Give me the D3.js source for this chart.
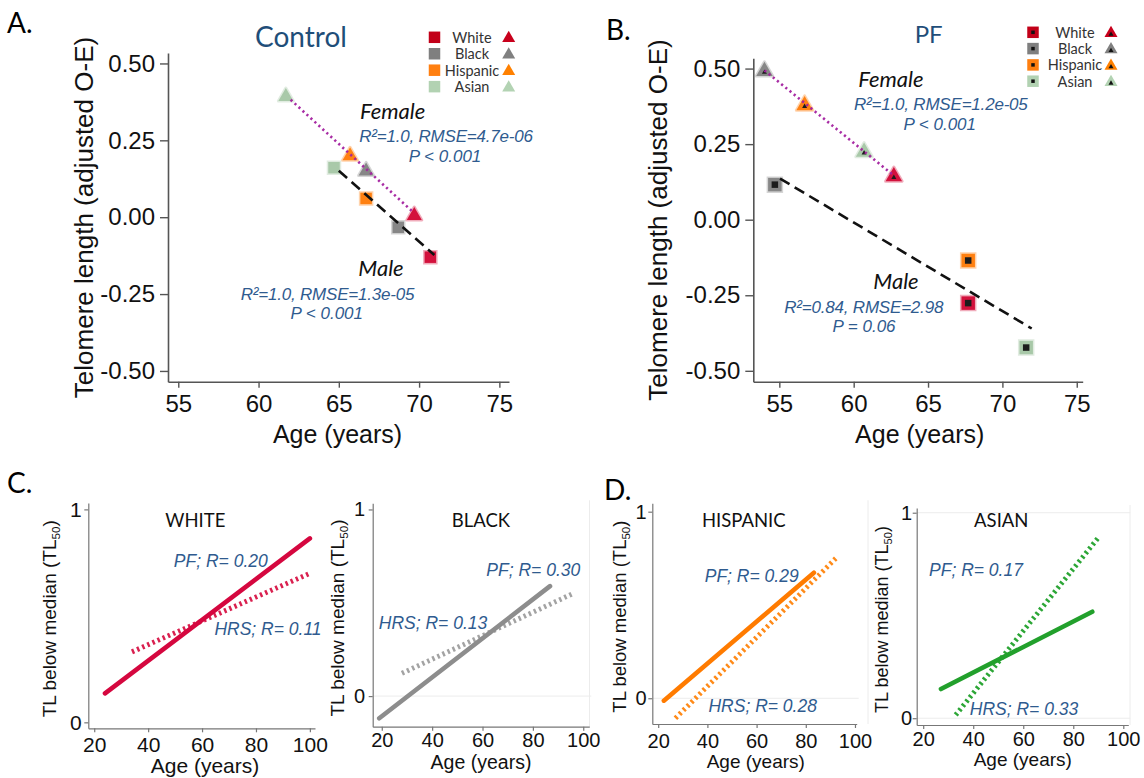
<!DOCTYPE html>
<html><head><meta charset="utf-8">
<script src="https://cdn.jsdelivr.net/npm/d3@7"></script>
<style>body{margin:0;background:#fff}svg{display:block}</style>
</head><body>
<svg id="fig" width="1144" height="778"></svg>
<script>
// ---------------- DATA ----------------
const races = ["White", "Black", "Hispanic", "Asian"];
// Panel A (Control)
const ctrlMaleAge = [70.7, 68.7, 66.7, 64.7];
const ctrlMaleTL = [-0.130, -0.033, 0.061, 0.161];
const ctrlFemaleAge = [69.7, 66.7, 65.7, 61.7];
const ctrlFemaleTL = [0.005, 0.150, 0.199, 0.392];
const ctrlMaleFitAge = [65.0, 70.95];
const ctrlMaleFitTL = [0.151, -0.123];
const ctrlFemaleFitAge = [62.0, 69.6];
const ctrlFemaleFitTL = [0.382, 0.018];
// Panel B (PF)
const pfMaleAge = [67.7, 54.7, 67.7, 71.6];
const pfMaleTL = [-0.276, 0.116, -0.135, -0.423];
const pfFemaleAge = [62.7, 54.0, 56.7, 60.7];
const pfFemaleTL = [0.143, 0.491, 0.378, 0.224];
const pfMaleFitAge = [55.05, 71.97];
const pfMaleFitTL = [0.136, -0.360];
const pfFemaleFitAge = [54.0, 62.7];
const pfFemaleFitTL = [0.494, 0.146];
// axis ticks A/B
const ageTicksAB = [55, 60, 65, 70, 75];
const tlTicksAB = [-0.5, -0.25, 0, 0.25, 0.5];
const tlTickLabelsAB = ["-0.50", "-0.25", "0.00", "0.25", "0.50"];
// Panels C/D trend lines
const trendRaces = ["WHITE", "BLACK", "HISPANIC", "ASIAN"];
const pfStartAge = [24, 19, 22.3, 27.1];
const pfEndAge = [100, 86.8, 83.3, 87.6];
const pfStartTL = [0.136, -0.119, -0.013, 0.142];
const pfEndTL = [0.864, 0.589, 0.673, 0.518];
const hrsStartAge = [34, 28, 27, 33];
const hrsEndAge = [100, 96, 92.2, 90.3];
const hrsStartTL = [0.331, 0.122, -0.107, 0.016];
const hrsEndTL = [0.70, 0.55, 0.75, 0.883];
const pfR = ["0.20", "0.30", "0.29", "0.17"];
const hrsR = ["0.11", "0.13", "0.28", "0.33"];
const ageTicksCD = [20, 40, 60, 80, 100];
const tlTicksCD = [0, 1];
const tlTickLabelsCD = ["0", "1"];

// ---------------- STYLES ----------------
const sans = "'Liberation Sans', Arial, Helvetica, sans-serif";
const humanist = "Lato, 'Open Sans', sans-serif";
const blue = "#2f5b8f";
const markerColors = ["#d3123d", "#878787", "#ff8112", "#a9c9a9"];
const legendSqColors = ["#c20018", "#7f7f7f", "#ff7f10", "#b2d2b2"];
const legendTriColors = ["#c8001c", "#808080", "#ff8000", "#b3d3b3"];
const pfLineColors = ["#d5073f", "#8d8d8d", "#ff7b00", "#22a02c"];
const hrsLineColors = ["#d9204f", "#a3a3a3", "#ff8a18", "#2ca636"];

const svg = d3.select("#fig");

function addText(x, y, str, o) {
  const t = svg.append("text").attr("x", x).attr("y", y).text(str)
    .attr("font-family", o.family || sans)
    .attr("font-size", o.size).attr("fill", o.fill || "#111")
    .attr("text-anchor", o.anchor || "start");
  if (o.italic) t.attr("font-style", "italic");
  if (o.rotate) t.attr("transform", `rotate(-90 ${x} ${y})`);
  if (o.ls != null) t.attr("letter-spacing", o.ls);
  return t;
}
const sq = s => d3.symbol().type(d3.symbolSquare).size(s * s)();
const tri = w => d3.symbol().type(d3.symbolTriangle).size(Math.sqrt(3) / 4 * w * w)();

// ---------------- PANELS A & B ----------------
function scatterPanel(p) {
  const x = d3.scaleLinear().domain(p.xDom).range(p.xRange);
  const y = d3.scaleLinear().domain(p.yDom).range(p.yRange);
  const g = svg.append("g");
  const xa = g.append("g").attr("transform", `translate(0,${p.yRange[0]})`)
    .call(d3.axisBottom(x).tickValues(ageTicksAB).tickSize(6).tickPadding(7)
      .tickSizeOuter(0).tickFormat(d => String(d)));
  const ya = g.append("g").attr("transform", `translate(${p.xRange[0]},0)`)
    .call(d3.axisLeft(y).tickValues(tlTicksAB).tickSize(8).tickPadding(5)
      .tickSizeOuter(0).tickFormat((d, i) => tlTickLabelsAB[i]));
  [xa, ya].forEach(a => {
    a.select(".domain").attr("stroke", "#555").attr("stroke-width", 1.6);
    a.selectAll(".tick line").attr("stroke", "#555").attr("stroke-width", 1.4);
    a.selectAll("text").attr("font-size", 24).attr("font-family", sans).attr("fill", "#111");
  });
  const line = d3.line().x(d => x(d[0])).y(d => y(d[1]));
  const males = d3.zip(p.maleAge, p.maleTL);
  const fems = d3.zip(p.femAge, p.femTL);
  males.forEach((d, i) => {
    g.append("path").attr("d", sq(p.sqSize)).attr("transform", `translate(${x(d[0])},${y(d[1])})`)
      .attr("fill", markerColors[i]).attr("stroke", markerColors[i]).attr("stroke-opacity", 0.35)
      .attr("stroke-width", 3);
    if (p.inner) g.append("path").attr("d", sq(6.5)).attr("transform", `translate(${x(d[0])},${y(d[1])})`)
      .attr("fill", "#1c1c1c");
  });
  fems.forEach((d, i) => {
    g.append("path").attr("d", tri(p.triSize)).attr("transform", `translate(${x(d[0])},${y(d[1])})`)
      .attr("fill", markerColors[i]).attr("stroke", markerColors[i]).attr("stroke-opacity", 0.35)
      .attr("stroke-width", 3).attr("stroke-linejoin", "round");
    if (p.inner) g.append("path").attr("d", tri(5)).attr("transform", `translate(${x(d[0])},${y(d[1]) + 1})`)
      .attr("fill", "#1c1c1c");
  });
  g.append("path").datum(d3.zip(p.femFitAge, p.femFitTL)).attr("d", line)
    .attr("fill", "none").attr("stroke", "#a3219f").attr("stroke-width", 2.6)
    .attr("stroke-dasharray", "2.2,3.2").attr("stroke-opacity", 0.95);
  g.append("path").datum(d3.zip(p.maleFitAge, p.maleFitTL)).attr("d", line)
    .attr("fill", "none").attr("stroke", "#111").attr("stroke-width", 2.6)
    .attr("stroke-dasharray", "11,6");
  // legend
  races.forEach((r, i) => {
    const ly = p.legY + i * p.legDy;
    g.append("path").attr("d", sq(11.5)).attr("transform", `translate(${p.legSqX},${ly})`)
      .attr("fill", legendSqColors[i]);
    if (p.inner) g.append("path").attr("d", sq(3.5)).attr("transform", `translate(${p.legSqX},${ly})`).attr("fill", "#111");
    g.append("path").attr("d", tri(13)).attr("transform", `translate(${p.legTriX},${ly + 1})`)
      .attr("fill", legendTriColors[i]);
    if (p.inner) g.append("path").attr("d", tri(5)).attr("transform", `translate(${p.legTriX},${ly + 2})`).attr("fill", "#111");
    addText(p.legTxtX, ly + 5.5, r, { size: 14.5, family: humanist, fill: "#333", anchor: "middle" });
  });
}

scatterPanel({
  xDom: [54.36, 75.6], xRange: [168, 509], yDom: [-0.535, 0.534], yRange: [381.7, 53],
  maleAge: ctrlMaleAge, maleTL: ctrlMaleTL, femAge: ctrlFemaleAge, femTL: ctrlFemaleTL,
  maleFitAge: ctrlMaleFitAge, maleFitTL: ctrlMaleFitTL, femFitAge: ctrlFemaleFitAge, femFitTL: ctrlFemaleFitTL,
  sqSize: 11.5, triSize: 15, inner: false,
  legY: 37.3, legDy: 16.45, legSqX: 434.5, legTxtX: 472, legTriX: 508.7
});
scatterPanel({
  xDom: [53.25, 75.4], xRange: [753.3, 1082.7], yDom: [-0.536, 0.534], yRange: [381.7, 58.3],
  maleAge: pfMaleAge, maleTL: pfMaleTL, femAge: pfFemaleAge, femTL: pfFemaleTL,
  maleFitAge: pfMaleFitAge, maleFitTL: pfMaleFitTL, femFitAge: pfFemaleFitAge, femFitTL: pfFemaleFitTL,
  sqSize: 13.5, triSize: 16.5, inner: true,
  legY: 32.3, legDy: 16.3, legSqX: 1033, legTxtX: 1075, legTriX: 1111
});

// Panel A/B texts
addText(7, 33, "A.", { size: 28, family: humanist, fill: "#000" });
addText(606, 40, "B.", { size: 28, family: humanist, fill: "#000" });
addText(301, 47, "Control", { size: 28, family: humanist, fill: "#1f4e79", anchor: "middle" });
addText(928.7, 42.7, "PF", { size: 24, family: humanist, fill: "#1f4e79", anchor: "middle" });
addText(93, 217.5, "Telomere length (adjusted O-E)", { size: 26, rotate: true, anchor: "middle" });
addText(667, 220, "Telomere length (adjusted O-E)", { size: 26, rotate: true, anchor: "middle" });
addText(337.5, 443, "Age (years)", { size: 25, anchor: "middle" });
addText(919.7, 443, "Age (years)", { size: 25, anchor: "middle" });

addText(360, 119.3, "Female", { size: 22, family: humanist, italic: true, fill: "#111" });
addText(446, 141.7, "R²=1.0, RMSE=4.7e-06", { size: 17, italic: true, fill: blue, anchor: "middle", ls: -0.2 });
addText(445, 161.7, "P < 0.001", { size: 17, italic: true, fill: blue, anchor: "middle" });
addText(358.3, 276, "Male", { size: 22, family: humanist, italic: true, fill: "#111" });
addText(327.5, 300, "R²=1.0, RMSE=1.3e-05", { size: 17, italic: true, fill: blue, anchor: "middle", ls: -0.2 });
addText(326.7, 319.3, "P < 0.001", { size: 17, italic: true, fill: blue, anchor: "middle" });

addText(858.3, 86.7, "Female", { size: 22, family: humanist, italic: true, fill: "#111" });
addText(940.8, 110, "R²=1.0, RMSE=1.2e-05", { size: 17, italic: true, fill: blue, anchor: "middle", ls: -0.2 });
addText(939.7, 130, "P < 0.001", { size: 17, italic: true, fill: blue, anchor: "middle" });
addText(873.3, 289.3, "Male", { size: 22, family: humanist, italic: true, fill: "#111" });
addText(863.7, 312.7, "R²=0.84, RMSE=2.98", { size: 17, italic: true, fill: blue, anchor: "middle", ls: -0.2 });
addText(864, 331.7, "P = 0.06", { size: 17, italic: true, fill: blue, anchor: "middle" });

// ---------------- PANELS C & D ----------------
const cdLayout = [
  { xDom: [17.8, 101.9], xr: [88.3, 315], yDom: [-0.028, 1.03], yr: [728.3, 503], fs: 21, padX: 4.4, padY: 2.6,
    grid: [], border: null, titleX: 56, titleFs: 19, ageX: 205, ageY: 773, ageFs: 21, nameX: 195.3, nameY: 526.7,
    pfTx: [220.8, 566.7], hrsTx: [268, 635] },
  { xDom: [16.4, 102.4], xr: [372.7, 589.3], yDom: [-0.164, 1.033], yr: [726.7, 503.3], fs: 20, padX: 2.6, padY: 3.7,
    grid: [0], border: 589.5, titleX: 344, titleFs: 19, ageX: 481, ageY: 769, ageFs: 19.5, nameX: 481, nameY: 527.3,
    pfTx: [533.3, 576], hrsTx: [433, 629.3] },
  { xDom: [17.6, 100.7], xr: [652.3, 856.7], yDom: [-0.138, 1.045], yr: [724, 503.3], fs: 20, padX: 5.3, padY: 1.6,
    grid: [0], border: 868, titleX: 625.6, titleFs: 18.5, ageX: 755.8, ageY: 768, ageFs: 19, nameX: 743.8, nameY: 526.7,
    pfTx: [751.7, 581.7], hrsTx: [762.7, 711.7] },
  { xDom: [17.4, 102], xr: [916.7, 1128.3], yDom: [-0.033, 1.023], yr: [725, 508], fs: 20, padX: 2.7, padY: 0.5,
    grid: [0, 1], border: 1130, titleX: 888, titleFs: 18, ageX: 1022.8, ageY: 766, ageFs: 19, nameX: 1001.3, nameY: 526.7,
    pfTx: [976, 576], hrsTx: [1024, 715] }
];

trendRaces.forEach((name, i) => {
  const L = cdLayout[i];
  const x = d3.scaleLinear().domain(L.xDom).range(L.xr);
  const y = d3.scaleLinear().domain(L.yDom).range(L.yr);
  const g = svg.append("g");
  L.grid.forEach(v => {
    g.append("line").attr("x1", L.xr[0]).attr("x2", L.xr[1] + 2).attr("y1", y(v)).attr("y2", y(v))
      .attr("stroke", "#ececec").attr("stroke-width", 1);
  });
  if (L.border) g.append("line").attr("x1", L.border).attr("x2", L.border).attr("y1", L.yr[1] - 3).attr("y2", L.yr[0])
    .attr("stroke", "#ececec").attr("stroke-width", 1);
  const xa = g.append("g").attr("transform", `translate(0,${L.yr[0]})`)
    .call(d3.axisBottom(x).tickValues(ageTicksCD).tickSize(4).tickPadding(L.padX).tickSizeOuter(0)
      .tickFormat(d => String(d)));
  const ya = g.append("g").attr("transform", `translate(${L.xr[0]},0)`)
    .call(d3.axisLeft(y).tickValues(tlTicksCD).tickSize(4).tickPadding(L.padY).tickSizeOuter(0)
      .tickFormat((d, k) => tlTickLabelsCD[k]));
  [xa, ya].forEach(a => {
    a.select(".domain").attr("stroke", "#777").attr("stroke-width", 1.2);
    a.selectAll(".tick line").attr("stroke", "#777").attr("stroke-width", 1.2);
    a.selectAll("text").attr("font-size", L.fs).attr("font-family", sans).attr("fill", "#111");
  });
  const line = d3.line().x(d => x(d[0])).y(d => y(d[1]));
  g.append("path").datum([[hrsStartAge[i], hrsStartTL[i]], [hrsEndAge[i], hrsEndTL[i]]]).attr("d", line)
    .attr("fill", "none").attr("stroke", hrsLineColors[i]).attr("stroke-width", 5)
    .attr("stroke-dasharray", "2.4,3.2");
  g.append("path").datum([[pfStartAge[i], pfStartTL[i]], [pfEndAge[i], pfEndTL[i]]]).attr("d", line)
    .attr("fill", "none").attr("stroke", pfLineColors[i]).attr("stroke-width", 4.6)
    .attr("stroke-linecap", "round");
  // texts
  addText(L.nameX, L.nameY, name, { size: 18.5, family: humanist, fill: "#111", anchor: "middle" });
  addText(L.pfTx[0], L.pfTx[1], "PF; R= " + pfR[i], { size: 17.5, italic: true, fill: blue, anchor: "middle" });
  addText(L.hrsTx[0], L.hrsTx[1], "HRS; R= " + hrsR[i], { size: 17.5, italic: true, fill: blue, anchor: "middle" });
  addText(L.ageX, L.ageY, "Age (years)", { size: L.ageFs, anchor: "middle" });
  const yc = (L.yr[0] + L.yr[1]) / 2 + 3;
  const t = svg.append("text").attr("transform", `translate(${L.titleX},${yc}) rotate(-90)`)
    .attr("text-anchor", "middle").attr("font-family", sans).attr("font-size", L.titleFs).attr("fill", "#111");
  t.append("tspan").text("TL below median (TL");
  t.append("tspan").text("50").attr("font-size", L.titleFs * 0.62).attr("dy", 4);
  t.append("tspan").text(")").attr("dy", -4);
});

addText(7, 493, "C.", { size: 28, family: humanist, fill: "#000" });
addText(604, 500, "D.", { size: 28, family: humanist, fill: "#000" });
</script>
</body></html>
